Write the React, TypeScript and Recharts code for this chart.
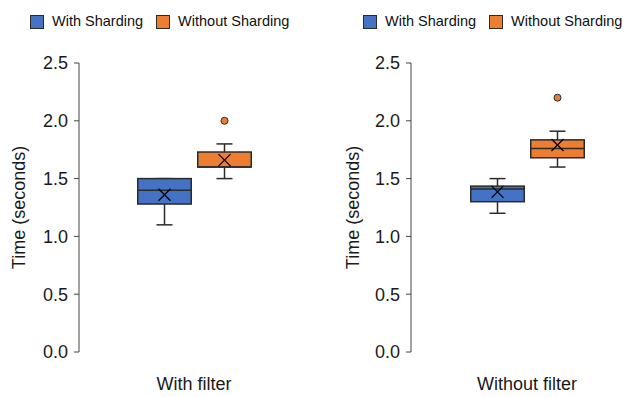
import React from "react"
import { ComposedChart, Bar, XAxis, YAxis, Legend } from "recharts"

// box plot statistics, one entry per filter group
const groups = ["With filter", "Without filter"]
const seriesNames = ["With Sharding", "Without Sharding"]
const seriesColors = ["#4472C4", "#ED7D31"]

const withMin = [1.1, 1.2]
const withQ1 = [1.28, 1.3]
const withMedian = [1.4, 1.41]
const withQ3 = [1.5, 1.435]
const withMax = [1.5, 1.5]
const withMean = [1.36, 1.385]
const withOutliers = [[], []]

const withoutMin = [1.5, 1.6]
const withoutQ1 = [1.6, 1.68]
const withoutMedian = [1.6, 1.76]
const withoutQ3 = [1.73, 1.835]
const withoutMax = [1.8, 1.91]
const withoutMean = [1.66, 1.79]
const withoutOutliers = [[2.0], [2.2]]

const yTicks = [0, 0.5, 1.0, 1.5, 2.0, 2.5]

const FONT = "'Liberation Sans', Arial, sans-serif"
const STROKE = "#2b2b2b"

const rows = groups.map((g, i) => ({
  group: g,
  withRange: [withMin[i], withMax[i]],
  withoutRange: [withoutMin[i], withoutMax[i]],
  with: { min: withMin[i], q1: withQ1[i], median: withMedian[i], q3: withQ3[i], max: withMax[i], mean: withMean[i], outliers: withOutliers[i] },
  without: { min: withoutMin[i], q1: withoutQ1[i], median: withoutMedian[i], q3: withoutQ3[i], max: withoutMax[i], mean: withoutMean[i], outliers: withoutOutliers[i] },
}))

// draws whiskers, box, median, mean and outliers from the range bar geometry
const makeBoxShape = (key: "with" | "without", color: string) => (props: any) => {
  const { x, y, width, height, payload } = props
  const s = payload[key]
  const top = Math.min(y, y + height)
  const h = Math.abs(height)
  const k = h / (s.max - s.min)
  const py = (v: number) => top + (s.max - v) * k
  const cx = x + width / 2
  const cap = 8
  const m = 6
  return (
    <g>
      <line x1={cx} x2={cx} y1={py(s.max)} y2={py(s.min)} stroke={STROKE} strokeWidth={1.5} />
      <line x1={cx - cap} x2={cx + cap} y1={py(s.max)} y2={py(s.max)} stroke={STROKE} strokeWidth={1.5} />
      <line x1={cx - cap} x2={cx + cap} y1={py(s.min)} y2={py(s.min)} stroke={STROKE} strokeWidth={1.5} />
      <rect x={x + 0.75} y={py(s.q3)} width={width - 1.5} height={py(s.q1) - py(s.q3)} fill={color} stroke={STROKE} strokeWidth={1.5} />
      <line x1={x + 0.75} x2={x + width - 0.75} y1={py(s.median)} y2={py(s.median)} stroke={STROKE} strokeWidth={1.5} />
      <line x1={cx - m} x2={cx + m} y1={py(s.mean) - m} y2={py(s.mean) + m} stroke="#000" strokeWidth={1.3} />
      <line x1={cx - m} x2={cx + m} y1={py(s.mean) + m} y2={py(s.mean) - m} stroke="#000" strokeWidth={1.3} />
      {s.outliers.map((o: number, i: number) => (
        <circle key={i} cx={cx} cy={py(o)} r={3.5} fill={color} stroke={STROKE} strokeWidth={1} />
      ))}
    </g>
  )
}

const renderLegend = (props: any) => (
  <div style={{ display: "flex", fontFamily: FONT, fontSize: 14.5, color: "#111", lineHeight: "17px", whiteSpace: "nowrap" }}>
    {(props.payload || []).map((p: any, i: number) => (
      <div key={i} style={{ display: "flex", alignItems: "center", marginRight: 13, flexShrink: 0 }}>
        <div style={{ width: 14, height: 14, boxSizing: "border-box", background: p.color, border: `1.5px solid ${STROKE}`, marginRight: 8 }} />
        <span>{p.value}</span>
      </div>
    ))}
  </div>
)

function BoxChart({ row, width, axisWidth, padLeft, marginRight, labelX, legendLeft }: any) {
  return (
    <ComposedChart
      width={width}
      height={397}
      data={[row]}
      margin={{ top: 63, right: marginRight, left: 0, bottom: 0 }}
      barSize={55}
      barGap={5}
    >
      <Legend
        verticalAlign="middle"
        align="center"
        layout="horizontal"
        content={renderLegend}
        wrapperStyle={{ top: 13, left: legendLeft, width: 266 }}
      />
      <XAxis
        dataKey="group"
        type="category"
        axisLine={false}
        tickLine={false}
        height={45}
        tickMargin={19}
        padding={{ left: padLeft, right: 0 }}
        tick={{ fontSize: 18, fill: "#1a1a1a", fontFamily: FONT }}
      />
      <YAxis
        type="number"
        domain={[0, 2.5]}
        ticks={yTicks}
        width={axisWidth}
        tickSize={5}
        tickMargin={6}
        tickFormatter={(v: number) => v.toFixed(1)}
        stroke="#444"
        tick={{ fontSize: 18, fill: "#1a1a1a", fontFamily: FONT }}
        label={{
          content: (p: any) => {
            const vb = p.viewBox || { y: 63, height: 289 }
            const cy = vb.y + vb.height / 2
            return (
              <text
                x={labelX}
                y={cy}
                transform={`rotate(-90, ${labelX}, ${cy})`}
                textAnchor="middle"
                dominantBaseline="central"
                fontSize={18}
                fill="#1a1a1a"
                fontFamily={FONT}
              >
                Time (seconds)
              </text>
            )
          },
        }}
      />
      <Bar dataKey="withRange" name={seriesNames[0]} fill={seriesColors[0]} isAnimationActive={false} shape={makeBoxShape("with", seriesColors[0])} />
      <Bar dataKey="withoutRange" name={seriesNames[1]} fill={seriesColors[1]} isAnimationActive={false} shape={makeBoxShape("without", seriesColors[1])} />
    </ComposedChart>
  )
}

export default function App() {
  return (
    <div style={{ position: "absolute", left: 0, top: 0, width: 630, height: 397, background: "#fff", overflow: "hidden" }}>
      <div style={{ position: "absolute", left: 0, top: 0 }}>
        <BoxChart row={rows[0]} width={320} axisWidth={79} padLeft={0} marginRight={11} labelX={18.5} legendLeft={30} />
      </div>
      <div style={{ position: "absolute", left: 320, top: 0 }}>
        <BoxChart row={rows[1]} width={310} axisWidth={91} padLeft={13} marginRight={0} labelX={33} legendLeft={43} />
      </div>
    </div>
  )
}
